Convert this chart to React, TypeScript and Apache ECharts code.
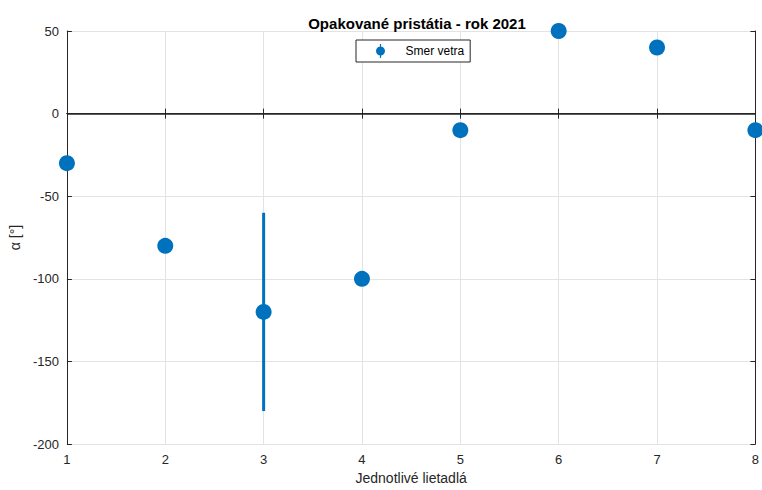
import React, { useEffect, useRef } from "react";
import * as echarts from "echarts";

const categories = [1, 2, 3, 4, 5, 6, 7, 8];
const windDirection = [-30, -80, -120, -100, -10, 50, 40, -10];
const errNeg = [0, 0, 60, 0, 0, 0, 0, 0];
const errPos = [0, 0, 60, 0, 0, 0, 0, 0];
const yTicks = { min: -200, max: 50, interval: 50 };

const FONT = "'Liberation Sans', Arial, Helvetica, sans-serif";
const AX = "#262626";
const BLUE = "#0072BD";

export default function App() {
  const ref = useRef<HTMLDivElement>(null);
  useEffect(() => {
    if (!ref.current) return;
    const chart = echarts.init(ref.current, undefined, { renderer: "svg" });
    const points = categories.map((c, i) => [c, windDirection[i]]);
    const errData = categories
      .map((c, i) => [c, windDirection[i] - errNeg[i], windDirection[i] + errPos[i]])
      .filter((_, i) => errNeg[i] > 0 || errPos[i] > 0);
    const iconPath =
      "path://M4.4,0 h1.2 v14 h-1.2 Z M0.5,7 a4.5,4.5 0 1,1 9,0 a4.5,4.5 0 1,1 -9,0 Z";
    chart.setOption({
      animation: false,
      color: [BLUE],
      textStyle: { fontFamily: FONT },
      title: {
        text: "Opakované pristátia - rok 2021",
        left: 412,
        top: 11,
        textAlign: "center",
        textStyle: { fontSize: 15, fontWeight: "bold", color: "#000", fontFamily: FONT },
      },
      legend: {
        left: 356,
        top: 40,
        padding: [4, 6, 4, 20],
        borderColor: AX,
        borderWidth: 1,
        backgroundColor: "#fff",
        itemWidth: 10,
        itemHeight: 14,
        data: [{ name: "Smer vetra", icon: iconPath, itemStyle: { color: BLUE, opacity: 1 } }],
        textStyle: { fontSize: 12, color: "#000", fontFamily: FONT, padding: [0, 0, 0, 15] },
      },
      grid: { left: 65, right: 1, top: 31, bottom: 42, containLabel: false },
      xAxis: [
        {
          type: "value",
          min: 1,
          max: 8,
          interval: 1,
          position: "bottom",
          name: "Jednotlivé lietadlá",
          nameLocation: "middle",
          nameGap: 26,
          nameTextStyle: { fontSize: 14, color: AX, fontFamily: FONT },
          axisLine: { show: true, lineStyle: { color: AX, width: 1 } },
          axisTick: { show: true, inside: true, length: 5, lineStyle: { color: AX } },
          axisLabel: { fontSize: 13, color: AX, margin: 9, fontFamily: FONT },
          splitLine: { show: true, lineStyle: { color: "#e3e3e3", width: 1 } },
        },
        {
          type: "value",
          min: 1,
          max: 8,
          interval: 1,
          position: "top",
          axisLine: { show: true, lineStyle: { color: AX, width: 1 } },
          axisTick: { show: true, inside: true, length: 5, lineStyle: { color: AX } },
          axisLabel: { show: false },
          splitLine: { show: false },
        },
      ],
      yAxis: [
        {
          type: "value",
          min: yTicks.min,
          max: yTicks.max,
          interval: yTicks.interval,
          position: "left",
          name: "α [°]",
          nameLocation: "middle",
          nameGap: 35,
          nameRotate: 90,
          nameTextStyle: { fontSize: 14, color: AX, fontFamily: FONT },
          axisLine: { show: true, lineStyle: { color: AX, width: 1 } },
          axisTick: { show: true, inside: true, length: 5, lineStyle: { color: AX } },
          axisLabel: { fontSize: 13, color: AX, margin: 8, fontFamily: FONT },
          splitLine: { show: true, lineStyle: { color: "#e3e3e3", width: 1 } },
        },
        {
          type: "value",
          min: yTicks.min,
          max: yTicks.max,
          interval: yTicks.interval,
          position: "right",
          axisLine: { show: true, lineStyle: { color: AX, width: 1 } },
          axisTick: { show: true, inside: true, length: 5, lineStyle: { color: AX } },
          axisLabel: { show: false },
          splitLine: { show: false },
        },
      ],
      series: [
        {
          name: "Smer vetra",
          type: "scatter",
          xAxisIndex: 0,
          yAxisIndex: 0,
          clip: false,
          z: 3,
          symbol: "circle",
          symbolSize: 16,
          itemStyle: { color: BLUE, opacity: 1 },
          data: points,
          markLine: {
            silent: true,
            symbol: "none",
            label: { show: false },
            lineStyle: { color: AX, width: 1.5, type: "solid" },
            data: [{ yAxis: 0 }],
          },
        },
        {
          name: "Smer vetra",
          type: "custom",
          xAxisIndex: 0,
          yAxisIndex: 0,
          clip: false,
          z: 2,
          data: errData,
          renderItem: (params: any, api: any) => {
            const x = api.value(0);
            const p1 = api.coord([x, api.value(1)]);
            const p2 = api.coord([x, api.value(2)]);
            return {
              type: "line",
              shape: { x1: p1[0], y1: p1[1], x2: p2[0], y2: p2[1] },
              style: { stroke: BLUE, lineWidth: 3 },
            };
          },
        },
      ],
    });
    return () => chart.dispose();
  }, []);
  return (
    <div
      ref={ref}
      style={{ position: "absolute", left: 0, top: 0, width: 762, height: 490, background: "#fff" }}
    />
  );
}
